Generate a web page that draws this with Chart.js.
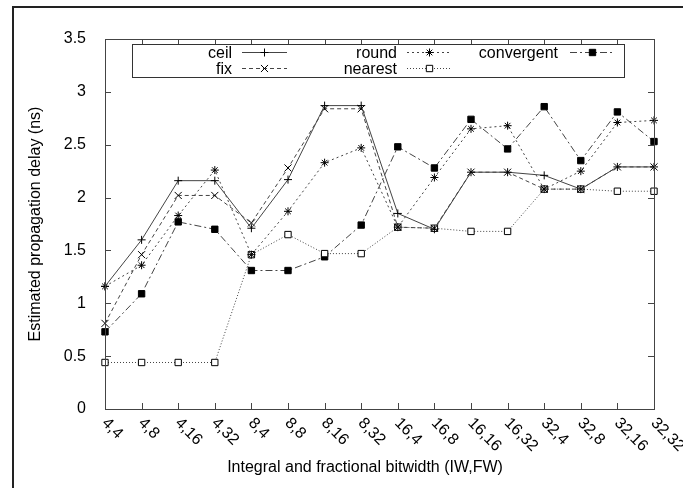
<!DOCTYPE html>
<html>
<head>
<meta charset="utf-8">
<script src="https://cdn.jsdelivr.net/npm/chart.js@4/dist/chart.umd.min.js"></script>
<style>
  body { margin: 0; background: #fff; }
  #wrap { position: relative; width: 683px; height: 488px; }
</style>
</head>
<body>
<div id="wrap"><canvas id="myChart" width="683" height="488"></canvas></div>
<script>
// categories (IW,FW)
var labels = ["4,4", "4,8", "4,16", "4,32", "8,4", "8,8", "8,16", "8,32",
              "16,4", "16,8", "16,16", "16,32", "32,4", "32,8", "32,16", "32,32"];

// estimated propagation delay (ns)
var ceilData       = [1.16, 1.60, 2.16, 2.16, 1.71, 2.17, 2.87, 2.87, 1.85, 1.70, 2.24, 2.24, 2.21, 2.08, 2.29, 2.29];
var fixData        = [0.81, 1.46, 2.02, 2.02, 1.76, 2.28, 2.84, 2.84, 1.72, 1.71, 2.24, 2.24, 2.08, 2.08, 2.29, 2.29];
var roundData      = [1.16, 1.36, 1.83, 2.26, 1.46, 1.87, 2.33, 2.47, 1.72, 2.19, 2.65, 2.68, 2.08, 2.25, 2.71, 2.73];
var nearestData    = [0.44, 0.44, 0.44, 0.44, 1.46, 1.65, 1.47, 1.47, 1.72, 1.71, 1.68, 1.68, 2.08, 2.08, 2.06, 2.06];
var convergentData = [0.73, 1.09, 1.77, 1.70, 1.31, 1.31, 1.44, 1.74, 2.48, 2.28, 2.74, 2.46, 2.86, 2.35, 2.81, 2.53];

var FONT = '"Liberation Sans", Arial, Helvetica, sans-serif';

function ds(label, data, dash, style, radius, fillCol) {
  return {
    label: label,
    data: data,
    borderColor: "#444",
    borderWidth: 1,
    borderDash: dash,
    fill: false,
    tension: 0,
    pointStyle: style,
    pointRadius: radius,
    pointBorderColor: "#000",
    pointBorderWidth: 1,
    pointBackgroundColor: fillCol
  };
}

var datasets = [
  ds("ceil", ceilData, [], "cross", 4, "#000"),
  ds("fix", fixData, [4, 3], "crossRot", 5, "#000"),
  ds("round", roundData, [2, 3], "star", 4, "#000"),
  ds("nearest", nearestData, [1, 2], "rect", 4.5, "#fff"),
  ds("convergent", convergentData, [7, 3, 2, 3], "rect", 4.5, "#000")
];

// 凡例の配置 (列ごと)
var legendCols = [
  { textX: 232, lineX: 242, items: [0, 1] },
  { textX: 397, lineX: 407, items: [2, 3] },
  { textX: 558, lineX: 570, items: [4] }
];

var decorPlugin = {
  id: "decor",
  beforeDraw: function(chart) {
    var ctx = chart.ctx;
    ctx.save();
    ctx.fillStyle = "#fff";
    ctx.fillRect(0, 0, chart.width, chart.height);
    // outer frame (left + top)
    ctx.fillStyle = "#222";
    ctx.fillRect(12, 6, chart.width - 12, 2);
    ctx.fillRect(12, 6, 2, chart.height - 6);
    ctx.restore();
  },
  afterDatasetsDraw: function(chart) {
    var ctx = chart.ctx, a = chart.chartArea;
    var xs = chart.scales.x, ys = chart.scales.y;
    ctx.save();
    ctx.strokeStyle = "#444";
    ctx.lineWidth = 1;
    ctx.setLineDash([]);
    ctx.strokeRect(Math.round(a.left) + 0.5, Math.round(a.top) + 0.5,
                   Math.round(a.right - a.left), Math.round(a.bottom - a.top));

    // inner ticks, mirrored
    ctx.beginPath();
    for (var v = 0; v <= 3.5; v += 0.5) {
      var py = Math.round(ys.getPixelForValue(v)) + 0.5;
      ctx.moveTo(a.left, py); ctx.lineTo(a.left + 6, py);
      ctx.moveTo(a.right, py); ctx.lineTo(a.right - 6, py);
    }
    labels.forEach(function(l, i) {
      var px = Math.round(xs.getPixelForTick(i)) + 0.5;
      ctx.moveTo(px, a.bottom); ctx.lineTo(px, a.bottom - 6);
      ctx.moveTo(px, a.top); ctx.lineTo(px, a.top + 6);
    });
    ctx.stroke();

    // legend box
    ctx.fillStyle = "#fff";
    ctx.fillRect(132, 44, 492, 33);
    ctx.strokeStyle = "#333";
    ctx.strokeRect(132.5, 44.5, 492, 33);
    ctx.font = "16px " + FONT;
    ctx.textAlign = "right";
    ctx.textBaseline = "middle";
    legendCols.forEach(function(col) {
      col.items.forEach(function(idx, row) {
        var d = chart.data.datasets[idx];
        var y = 52.5 + row * 16;
        ctx.fillStyle = "#000";
        ctx.fillText(d.label, col.textX, y + 1);
        ctx.strokeStyle = d.borderColor;
        ctx.lineWidth = 1;
        ctx.setLineDash(d.borderDash);
        ctx.beginPath();
        ctx.moveTo(col.lineX, y);
        ctx.lineTo(col.lineX + 45, y);
        ctx.stroke();
        ctx.setLineDash([]);
        ctx.strokeStyle = d.pointBorderColor;
        ctx.fillStyle = d.pointBackgroundColor;
        Chart.helpers.drawPoint(ctx, {
          pointStyle: d.pointStyle, radius: d.pointRadius, rotation: 0, borderWidth: 1
        }, col.lineX + 22.5, y);
      });
    });
    ctx.restore();
  },
  afterDraw: function(chart) {
    var ctx = chart.ctx, a = chart.chartArea, xs = chart.scales.x;
    ctx.save();
    ctx.fillStyle = "#000";
    ctx.font = "16px " + FONT;
    // rotated category labels
    ctx.textAlign = "left";
    ctx.textBaseline = "top";
    labels.forEach(function(l, i) {
      var px = xs.getPixelForTick(i);
      ctx.save();
      ctx.translate(px + 5, a.bottom + 6);
      ctx.rotate(Math.PI / 4);
      ctx.fillText(l, 0, 0);
      ctx.restore();
    });
    // axis titles
    ctx.textAlign = "center";
    ctx.textBaseline = "middle";
    ctx.fillText("Integral and fractional bitwidth (IW,FW)", 365, 468);
    ctx.save();
    ctx.translate(36, (a.top + a.bottom) / 2);
    ctx.rotate(-Math.PI / 2);
    ctx.fillText("Estimated propagation delay (ns)", 0, 0);
    ctx.restore();
    ctx.restore();
  }
};

var ctx = document.getElementById("myChart").getContext("2d");
var myChart = new Chart(ctx, {
  type: "line",
  data: { labels: labels, datasets: datasets },
  plugins: [decorPlugin],
  options: {
    responsive: false,
    animation: false,
    layout: { padding: { top: 39, right: 29, left: 0, bottom: 0 } },
    plugins: { legend: { display: false }, tooltip: { enabled: false } },
    scales: {
      x: {
        type: "category",
        offset: false,
        grid: { display: false },
        border: { display: false },
        ticks: { display: false },
        afterFit: function(s) { s.height = 79; }
      },
      y: {
        min: 0,
        max: 3.5,
        grid: { display: false },
        border: { display: false },
        ticks: {
          stepSize: 0.5,
          color: "#000",
          padding: 11,
          font: { size: 16, family: FONT },
          callback: function(v) { return String(v); }
        },
        afterFit: function(s) { s.width = 105; }
      }
    }
  }
});
</script>
</body>
</html>
